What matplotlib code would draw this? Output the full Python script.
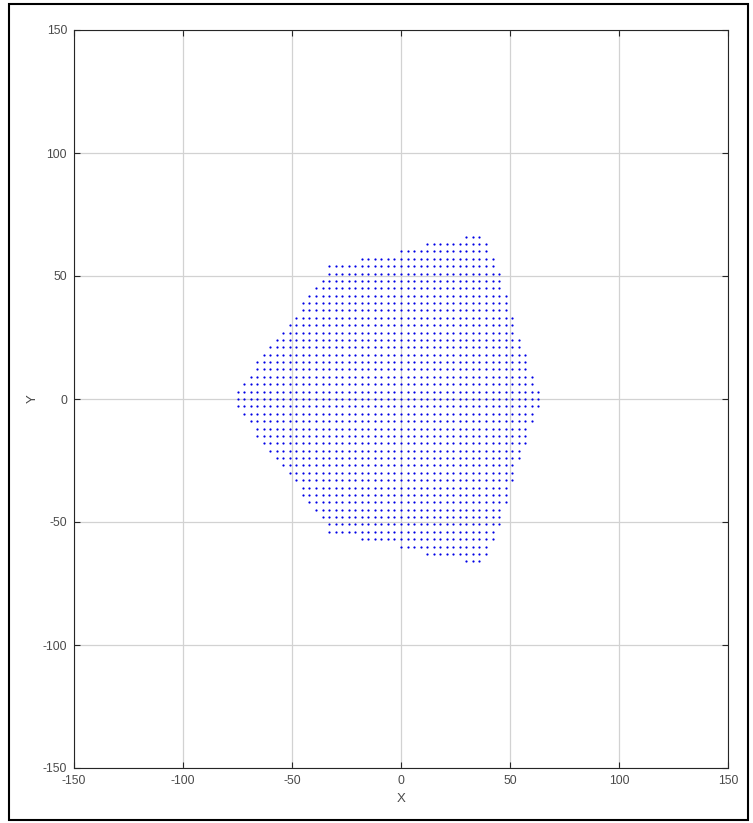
import numpy as np
import matplotlib
matplotlib.use("Agg")
import matplotlib.pyplot as plt
from matplotlib.patches import Rectangle

# %% row extents of the dot lattice (grid step 3)
row_y = [66, 63, 60, 57, 54, 51, 48, 45, 42, 39, 36, 33, 30, 27, 24, 21, 18, 15, 12, 9, 6, 3, 0]
row_xmin = [30, 12, 0, -18, -33, -33, -36, -39, -42, -45, -45, -48, -51, -54, -57, -60, -63, -66, -66, -69, -72, -75, -75]
row_xmax = [36, 39, 39, 42, 42, 45, 45, 45, 48, 48, 48, 51, 51, 51, 54, 54, 57, 57, 57, 60, 60, 63, 63]
step = 3

ticks = [-150, -100, -50, 0, 50, 100, 150]

# %% build the point cloud (shape is mirrored about y = 0)
xs, ys = [], []
for y, x0, x1 in zip(row_y, row_xmin, row_xmax):
    xr = np.arange(x0, x1 + 1, step)
    for yy in ({y, -y}):
        xs.extend(xr)
        ys.extend([yy] * len(xr))

# %% plot
plt.rcParams['font.family'] = ['Liberation Sans', 'DejaVu Sans']
plt.rcParams['axes.unicode_minus'] = False
fig = plt.figure(figsize=(7.53, 8.23), dpi=100)
ax = fig.add_axes([74 / 753, 55 / 823, 654 / 753, 738 / 823])

ax.plot(xs, ys, '.', color='#0000e6', markersize=3.2, markeredgewidth=0)

ax.set_xlim(-150, 150)
ax.set_ylim(-150, 150)
ax.set_xticks(ticks)
ax.set_yticks(ticks)
ax.grid(True, color='#d2d2d2', linewidth=0.9)
ax.set_axisbelow(True)
ax.tick_params(direction='in', length=4, width=0.8, colors='#262626',
               labelcolor='#4a4a4a', labelsize=8.8, top=True, right=True, pad=5)
for s in ax.spines.values():
    s.set_color('#262626')
    s.set_linewidth(0.8)

ax.set_xlabel('X', fontsize=9.5, color='#4a4a4a', labelpad=4)
ax.set_ylabel('Y', fontsize=9.5, color='#4a4a4a', labelpad=3)

# outer frame around the whole picture
fig.patches.append(Rectangle((9 / 753, 3 / 823), 739 / 753, 816 / 823,
                             transform=fig.transFigure, fill=False,
                             edgecolor='black', linewidth=1.5))

fig.savefig('out.png', dpi=100)
